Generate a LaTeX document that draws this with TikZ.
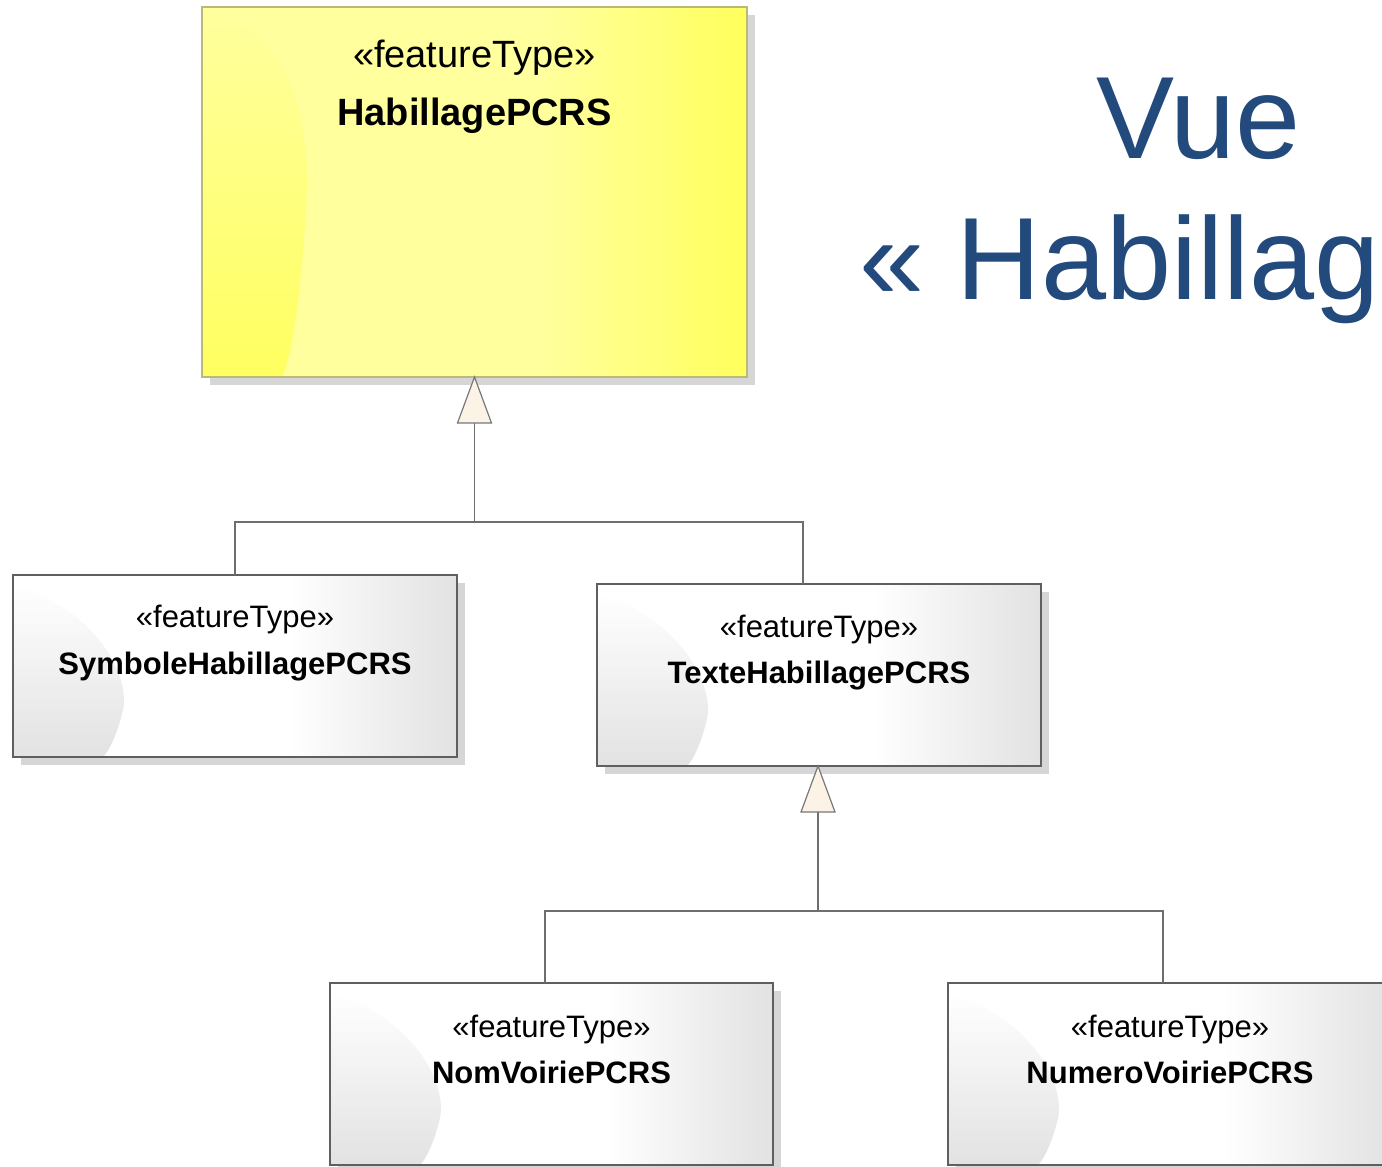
\documentclass[tikz,border=0pt]{standalone}
\usepackage{fontspec}
\setmainfont{Liberation Sans}
\usetikzlibrary{calc}
\pgfdeclarelayer{bg}
\pgfsetlayers{bg,main}
\definecolor{titleblue}{RGB}{34,74,124}
\definecolor{cream}{RGB}{251,243,230}
\definecolor{linegray}{RGB}{110,110,110}
\definecolor{trigray}{RGB}{120,120,120}
\definecolor{boxborder}{RGB}{95,95,95}
\definecolor{yborder}{RGB}{185,185,120}
\definecolor{shdw}{RGB}{214,214,214}
\definecolor{wA}{RGB}{255,255,255}
\definecolor{wB}{RGB}{226,226,226}
\definecolor{glossgray}{RGB}{226,226,226}
\definecolor{yB}{RGB}{255,255,158}
\definecolor{yC}{RGB}{255,255,92}
\definecolor{yD}{RGB}{255,255,96}
\pgfdeclarehorizontalshading{whiteshade}{100bp}{color(0bp)=(wA); color(25bp)=(wA); color(56bp)=(wA); color(75bp)=(wB); color(100bp)=(wB)}
\pgfdeclarehorizontalshading{yellowshade}{100bp}{color(0bp)=(yB); color(25bp)=(yB); color(56bp)=(yB); color(75bp)=(yC); color(100bp)=(yC)}
\tikzset{
  umlbox/.style={rectangle, draw=boxborder, line width=0.6pt, inner sep=0pt, outer sep=0pt,
    anchor=north west, minimum width=222pt, minimum height=91pt, shade, shading=whiteshade,
    path picture={
      \coordinate (pnw) at (path picture bounding box.north west);
      \coordinate (psw) at (path picture bounding box.south west);
      \shade[top color=white, bottom color=glossgray] (psw) -- ($(pnw)+(0,10)$)
        .. controls ($(pnw)+(75,30)$) and ($(pnw)+(118,95)$) .. ($(pnw)+(110,135)$)
        .. controls ($(pnw)+(104,160)$) and ($(psw)+(96,-6)$) .. ($(psw)+(90,0)$) -- cycle;
    }},
  yellowbox/.style={rectangle, draw=yborder, line width=0.6pt, inner sep=0pt, outer sep=0pt,
    anchor=north west, minimum width=272.5pt, minimum height=185pt, shade, shading=yellowshade,
    path picture={
      \coordinate (pnw) at (path picture bounding box.north west);
      \coordinate (psw) at (path picture bounding box.south west);
      \shade[top color=yB, bottom color=yD] (psw) -- (pnw)
        .. controls ($(pnw)+(90,20)$) and ($(pnw)+(110,120)$) .. ($(pnw)+(104,200)$)
        .. controls ($(pnw)+(100,280)$) and ($(psw)+(90,-20)$) .. ($(psw)+(80,0)$) -- cycle;
    }},
  stereo/.style={anchor=base, inner sep=0pt, font=\fontsize{15.5}{18}\selectfont},
  cname/.style={anchor=base, inner sep=0pt, font=\fontsize{15.5}{18}\selectfont\bfseries},
  bigstereo/.style={anchor=base, inner sep=0pt, font=\fontsize{19}{22}\selectfont},
  bigname/.style={anchor=base, inner sep=0pt, font=\fontsize{19}{22}\selectfont\bfseries},
  conn/.style={draw=linegray, line width=0.6pt},
  gentri/.style={draw=trigray, fill=cream, line width=0.6pt, line join=miter},
  titletext/.style={anchor=base west, inner sep=0pt, text=titleblue, font=\fontsize{58.5}{70}\selectfont},
}
\begin{document}
\begin{tikzpicture}[x=0.5pt,y=-0.5pt]
\useasboundingbox (0,0) rectangle (1382,1167);
\clip (0,0) rectangle (1382,1167);

% boxes
\node[yellowbox] (hab) at (202,7) {};
\node[umlbox] (sym) at (13,575) {};
\node[umlbox] (tex) at (597,584) {};
\node[umlbox, minimum width=221.5pt] (nom) at (330,983) {};
\node[umlbox] (num) at (948,983) {};

% background and shadows
\begin{pgfonlayer}{bg}
\clip (0,0) rectangle (1382,1167);
\fill[white] (0,0) rectangle (1382,1167);
\foreach \b in {hab,sym,tex,nom,num}{
  \fill[shdw] ($(\b.north west)+(8,8)$) rectangle ($(\b.south east)+(8,8)$);
}
\end{pgfonlayer}

% labels
\node[bigstereo] (habs) at ($(hab.north)+(0,60)$) {«featureType»};
\node[bigname]   (habn) at ($(hab.north)+(0,118)$) {HabillagePCRS};
\node[stereo] (syms) at ($(sym.north)+(0,52)$) {«featureType»};
\node[cname]  (symn) at ($(sym.north)+(0,99)$) {SymboleHabillagePCRS};
\node[stereo] (texs) at ($(tex.north)+(0,53)$) {«featureType»};
\node[cname]  (texn) at ($(tex.north)+(0,99)$) {TexteHabillagePCRS};
\node[stereo] (noms) at ($(nom.north)+(0,54)$) {«featureType»};
\node[cname]  (nomn) at ($(nom.north)+(0,100)$) {NomVoiriePCRS};
\node[stereo] (nums) at ($(num.north)+(0,54)$) {«featureType»};
\node[cname]  (numn) at ($(num.north)+(0,100)$) {NumeroVoiriePCRS};

% generalization 1
\coordinate (g1) at ($(hab.south)+(0,46)$);
\coordinate (j1) at ($(hab.south)+(0,145)$);
\draw[conn] (g1) -- (j1);
\draw[conn] (j1) -| (sym.north);
\draw[conn] (j1) -| ([xshift=-8pt]tex.north);
\draw[gentri] (hab.south) -- ++(-17,46) -- ++(34,0) -- cycle;

% generalization 2
\coordinate (g2) at ($(tex.south)+(-1,46)$);
\coordinate (j2) at ($(tex.south)+(-1,145)$);
\draw[conn] (g2) -- (j2);
\draw[conn] (j2) -| ([xshift=-3.25pt]nom.north);
\draw[conn] (j2) -| ([xshift=-3.5pt]num.north);
\draw[gentri] ([xshift=-0.5pt]tex.south) -- ++(-17,46) -- ++(34,0) -- cycle;

% title
\node[titletext] (t1) at (1096,158) {Vue};
\node[titletext] (t2) at (859,299) {« Habillage »};
\end{tikzpicture}
\end{document}
